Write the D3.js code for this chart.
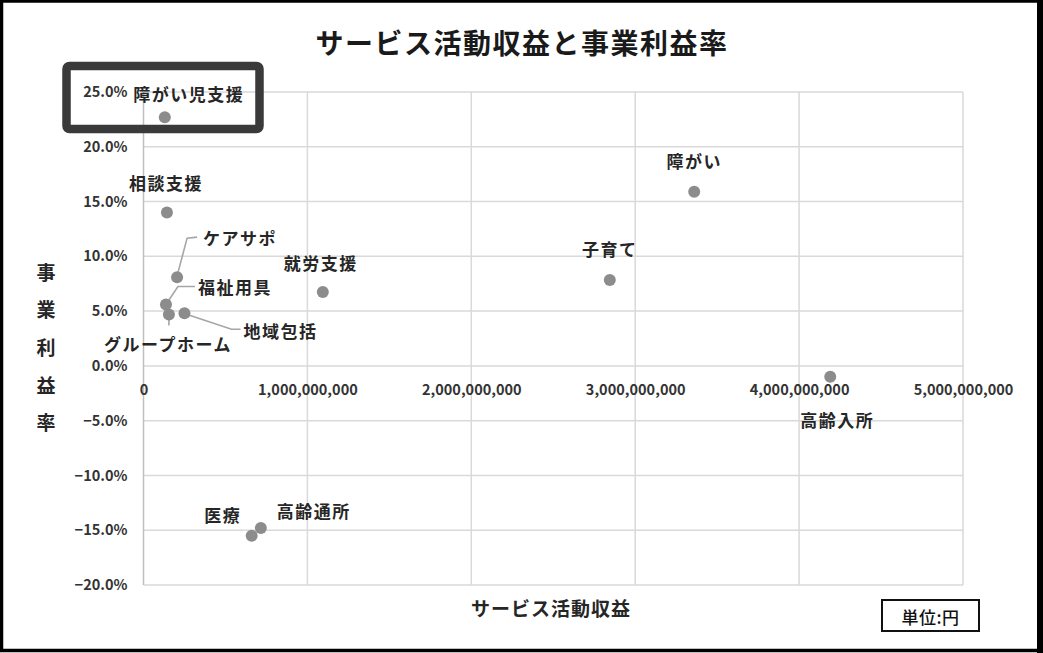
<!DOCTYPE html>
<html>
<head>
<meta charset="utf-8">
<script src="https://cdn.jsdelivr.net/npm/d3@7"></script>
<style>
  html, body { margin: 0; padding: 0; background: #fff; }
  svg { display: block; }
  text { font-family: "Noto Sans CJK JP", "Noto Sans", sans-serif; }
</style>
</head>
<body>
<svg id="chart" width="1043" height="653"></svg>
<script>
// Business segments: service revenue (yen) vs. operating margin
const segments = ["障がい児支援", "相談支援", "ケアサポ", "福祉用具", "グループホーム", "地域包括",
                  "就労支援", "子育て", "障がい", "高齢入所", "医療", "高齢通所"];
const revenue  = [130e6, 143e6, 205e6, 137e6, 155e6, 250e6,
                  1094e6, 2845e6, 3360e6, 4190e6, 660e6, 716e6];
const margin   = [0.227, 0.140, 0.081, 0.056, 0.047, 0.048,
                  0.0675, 0.0785, 0.159, -0.010, -0.155, -0.148];

const xTicks = [0, 1e9, 2e9, 3e9, 4e9, 5e9];
const yTicks = [-0.20, -0.15, -0.10, -0.05, 0, 0.05, 0.10, 0.15, 0.20, 0.25];

// Label placement (offset of label centre from its point) and optional leader lines
const labelLayout = {
  "障がい児支援": { dx: 24, dy: -24 },
  "相談支援":     { dx: -1, dy: -30 },
  "ケアサポ":     { dx: 63, dy: -40, leader: [[1, -5], [10, -39], [20, -40]] },
  "福祉用具":     { dx: 69, dy: -18, leader: [[2, -3], [12, -18], [29, -18]] },
  "グループホーム": { dx: -1, dy: 29, leader: [[0, 4], [0, 11]] },
  "地域包括":     { dx: 96, dy: 17, leader: [[5, 2], [47, 16], [56, 16]] },
  "就労支援":     { dx: -2, dy: -29 },
  "子育て":       { dx: 0, dy: -31 },
  "障がい":       { dx: 0, dy: -31 },
  "高齢入所":     { dx: 7, dy: 43 },
  "医療":         { dx: -29, dy: -21 },
  "高齢通所":     { dx: 53, dy: -18 }
};

const svg = d3.select("#chart");
const W = 1043, H = 653;

svg.append("rect").attr("x", 0).attr("y", 0).attr("width", W).attr("height", H).attr("fill", "#fff");

const x = d3.scaleLinear().domain([0, 5e9]).range([143.5, 963]);
const y = d3.scaleLinear().domain([-0.20, 0.25]).range([585, 92]);

// gridlines
const grid = svg.append("g");
grid.selectAll("line.h").data(yTicks).join("line")
  .attr("x1", x(0)).attr("x2", x(5e9))
  .attr("y1", d => y(d)).attr("y2", d => y(d))
  .attr("stroke", "#d9d9d9").attr("stroke-width", 1.5);
grid.selectAll("line.v").data(xTicks.filter(d => d > 0)).join("line")
  .attr("x1", d => x(d)).attr("x2", d => x(d))
  .attr("y1", y(0.25)).attr("y2", y(-0.20))
  .attr("stroke", "#d9d9d9").attr("stroke-width", 1.5);
// value axis line at x = 0
svg.append("line")
  .attr("x1", x(0)).attr("x2", x(0)).attr("y1", y(0.25)).attr("y2", y(-0.20))
  .attr("stroke", "#bfbfbf").attr("stroke-width", 1.5);

// y axis tick labels
const yAxis = d3.axisLeft(y).tickValues(yTicks).tickFormat(d3.format(".1%")).tickSize(0).tickPadding(16);
const gy = svg.append("g").attr("transform", `translate(${x(0)},0)`).call(yAxis);
gy.select(".domain").remove();
gy.selectAll("text").attr("font-size", 14.5).attr("font-weight", 700).attr("fill", "#333")
  .attr("font-family", "'Noto Sans CJK JP', sans-serif");

// x axis tick labels, placed along the zero line
const xAxis = d3.axisBottom(x).tickValues(xTicks).tickFormat(d3.format(",")).tickSize(0).tickPadding(19);
const gx = svg.append("g").attr("transform", `translate(0,${y(0)})`).call(xAxis);
gx.select(".domain").remove();
gx.selectAll("text").attr("font-size", 14.5).attr("font-weight", 700).attr("fill", "#333")
  .attr("font-family", "'Noto Sans CJK JP', sans-serif");

const pts = segments.map((name, i) => ({ name, rev: revenue[i], m: margin[i] }));

// leader lines
svg.append("g").selectAll("polyline").data(pts.filter(p => labelLayout[p.name].leader)).join("polyline")
  .attr("points", p => labelLayout[p.name].leader.map(([a, b]) => [x(p.rev) + a, y(p.m) + b].join(",")).join(" "))
  .attr("fill", "none").attr("stroke", "#a6a6a6").attr("stroke-width", 1.6);

// points
svg.append("g").selectAll("circle").data(pts).join("circle")
  .attr("cx", p => x(p.rev)).attr("cy", p => y(p.m)).attr("r", 6)
  .attr("fill", "#8c8c8c");

// data labels
svg.append("g").selectAll("text").data(pts).join("text")
  .attr("x", p => x(p.rev) + labelLayout[p.name].dx)
  .attr("y", p => y(p.m) + labelLayout[p.name].dy)
  .attr("text-anchor", "middle").attr("dominant-baseline", "central")
  .attr("font-size", 17).attr("font-weight", 700).attr("letter-spacing", 1.5)
  .attr("fill", "#262626")
  .text(p => p.name);

// chart title
svg.append("text").attr("x", 522).attr("y", 42)
  .attr("text-anchor", "middle").attr("dominant-baseline", "central")
  .attr("font-size", 28).attr("font-weight", 700).attr("fill", "#1a1a1a")
  .attr("letter-spacing", 1.5)
  .text("サービス活動収益と事業利益率");

// axis titles
svg.append("text").attr("x", 551).attr("y", 607)
  .attr("text-anchor", "middle").attr("dominant-baseline", "central")
  .attr("font-size", 19).attr("font-weight", 700).attr("fill", "#262626")
  .attr("letter-spacing", 1)
  .text("サービス活動収益");

const yTitle = "事業利益率".split("");
svg.append("g").selectAll("text").data(yTitle).join("text")
  .attr("x", 46).attr("y", (d, i) => 271 + i * 37.7)
  .attr("text-anchor", "middle").attr("dominant-baseline", "central")
  .attr("font-size", 19).attr("font-weight", 700).attr("fill", "#262626")
  .text(d => d);

// highlight box around the top-left label
svg.append("rect").attr("x", 66.5).attr("y", 66).attr("width", 193).attr("height", 63)
  .attr("rx", 3).attr("fill", "none").attr("stroke", "#3a3a3a").attr("stroke-width", 8.5);

// unit note
svg.append("rect").attr("x", 882).attr("y", 600).attr("width", 97).attr("height", 31)
  .attr("fill", "#fff").attr("stroke", "#111").attr("stroke-width", 2);
svg.append("text").attr("x", 930.5).attr("y", 616)
  .attr("text-anchor", "middle").attr("dominant-baseline", "central")
  .attr("font-size", 17).attr("font-weight", 500).attr("fill", "#111")
  .attr("letter-spacing", 0.5)
  .text("単位:円");

// picture frame
svg.append("rect").attr("x", 1.5).attr("y", 1).attr("width", W - 4.5).attr("height", H - 3.5)
  .attr("fill", "none").attr("stroke", "#000").attr("stroke-width", 3.5);
svg.append("line").attr("x1", W - 3).attr("x2", W - 3).attr("y1", 0).attr("y2", H)
  .attr("stroke", "#000").attr("stroke-width", 6);
</script>
</body>
</html>
